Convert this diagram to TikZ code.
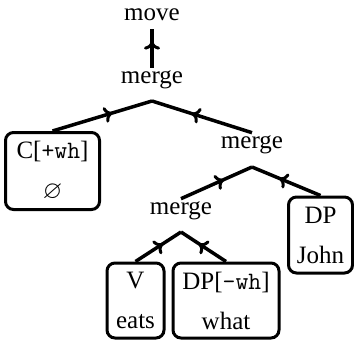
\documentclass[tikz,border=0pt]{standalone}
\usepackage{amssymb}
\usepackage{fontspec}
\setmainfont{Liberation Serif}
\usetikzlibrary{arrows.meta,decorations.markings}

\tikzset{
  midarrow/.style={postaction={decorate},
    decoration={markings,
      mark=at position 0.6 with {\arrow[line width=3pt]{Computer Modern Rightarrow[length=8pt,width=16pt]}}}},
  leafbox/.style={draw,line width=3pt,rounded corners=8pt,align=center,inner sep=0pt}
}

\begin{document}
\begin{tikzpicture}[x=1pt,y=-1pt,font=\fontsize{25}{40}\selectfont]
        \useasboundingbox (0,0) rectangle (354,341);
        \begin{scope}[every node/.style={inner sep=3pt}]
          \node (move) at (152,15) {move};
          \node (m1) at (152,80) {merge};
          \node (m2) at (252,145) {merge};
          \node (m3) at (181,211) {merge};
        \end{scope}
        \coordinate (a1) at (152,101);
        \coordinate (a2) at (252,167);
        \coordinate (a3) at (181,232);
        \begin{scope}[every node/.style={leafbox}]
          \node[minimum width=94pt,minimum height=77pt] (c) at (52.5,171) {C[\texttt{+wh}]\\$\varnothing$};
          \node[minimum width=64pt,minimum height=76pt] (john) at (320.5,235) {DP\\John};
          \node[minimum width=57pt,minimum height=75pt] (v) at (135.5,300.5) {V\\eats};
          \node[minimum width=106pt,minimum height=75pt] (dp) at (226,300.5) {DP[\texttt{-wh}]\\what};
        \end{scope}
        \begin{scope}[every edge/.style={draw=black,line width=3.5pt,midarrow}]
          \path (m1) edge[shorten >=5pt] (move);
          \path (c.north) edge (a1);
          \path (m2.north) edge (a1);
          \path (m3.north) edge (a2);
          \path (john.north) edge (a2);
          \path (v.north) edge (a3);
          \path (dp.north) edge (a3);
        \end{scope}
      \end{tikzpicture}
\end{document}
